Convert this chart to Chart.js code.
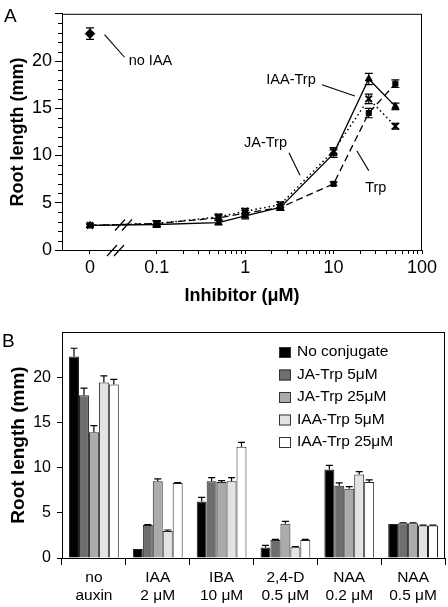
<!DOCTYPE html>
<html>
<head>
<meta charset="utf-8">
<script src="https://cdn.jsdelivr.net/npm/chart.js@4.4.1/dist/chart.umd.min.js"></script>
<style>
  html, body { margin: 0; padding: 0; background: #fff; }
  #wrap { position: relative; width: 448px; height: 607px; }
  .panel { position: absolute; left: 0; width: 448px; }
</style>
</head>
<body>
<div id="wrap">
  <div class="panel" style="top:0;height:305px"><canvas id="chartA" width="448" height="305"></canvas></div>
  <div class="panel" style="top:305px;height:302px"><canvas id="chartB" width="448" height="302"></canvas></div>
</div>
<script>
// ---- panel A data ----
const concentrations = [0, 0.1, 0.5, 1, 2.5, 10, 25, 50];
const iaaTrp    = [2.6, 2.7, 2.9, 3.6, 4.5, 10.2, 18.1, 15.2];
const iaaTrpErr = [0.15, 0.3, 0.25, 0.3, 0.3, 0.4, 0.6, 0.35];
const jaTrp     = [2.6, 2.8, 3.5, 4.1, 4.8, 10.5, 16.0, 13.1];
const jaTrpErr  = [0.15, 0.3, 0.3, 0.3, 0.3, 0.35, 0.5, 0.3];
const trp       = [2.6, 2.8, 3.4, 3.9, 4.5, 7.0, 14.5, 17.6];
const trpErr    = [0.15, 0.3, 0.3, 0.3, 0.3, 0.2, 0.5, 0.4];
const noIaa     = [22.9];
const noIaaErr  = [0.6];
const xMajorTicks = [0, 0.1, 1, 10, 100];
const xTickLabels = ['0', '0.1', '1', '10', '100'];
const ZERO_AT = 0.0176; // where "0" sits on the broken log axis

// ---- panel B data ----
const auxins = [['no', 'auxin'], ['IAA', '2 μM'], ['IBA', '10 μM'], ['2,4-D', '0.5 μM'], ['NAA', '0.2 μM'], ['NAA', '0.5 μM']];
const conjugates = ['No conjugate', 'JA-Trp 5μM', 'JA-Trp 25μM', 'IAA-Trp 5μM', 'IAA-Trp 25μM'];
const noConj    = [22.3, 1.0, 6.25, 1.15, 9.8, 3.75];
const noConjErr = [0.9, 0, 0.45, 0.25, 0.45, 0];
const ja5       = [18.0, 3.65, 8.5, 2.0, 8.0, 3.85];
const ja5Err    = [0.8, 0.05, 0.4, 0.05, 0.3, 0.05];
const ja25      = [13.9, 8.5, 8.4, 3.8, 7.65, 3.85];
const ja25Err   = [0.75, 0.25, 0.15, 0.25, 0.25, 0.05];
const iaa5      = [19.4, 3.0, 8.5, 1.2, 9.25, 3.6];
const iaa5Err   = [0.75, 0.1, 0.4, 0.05, 0.3, 0.03];
const iaa25     = [19.2, 8.3, 12.3, 2.0, 8.4, 3.6];
const iaa25Err  = [0.55, 0.05, 0.5, 0.05, 0.25, 0.03];
const yTicksB = [0, 5, 10, 15, 20];

const FONT = "'Liberation Sans', Arial, Helvetica, sans-serif";
Chart.defaults.font.family = FONT;
Chart.defaults.color = '#000';

const toXY = (vals) => vals.map((v, i) => ({ x: concentrations[i] === 0 ? ZERO_AT : concentrations[i], y: v }));

// error bars (both ways) + frame + minor ticks + labels for panel A
const panelA = {
  id: 'panelA',
  afterDatasetsDraw(chart) {
    const { ctx, chartArea: ca, scales: { x, y } } = chart;
    ctx.save();
    ctx.strokeStyle = '#000';
    ctx.lineWidth = 1.2;
    ctx.setLineDash([]);
    chart.data.datasets.forEach(ds => {
      if (!ds.errors) return;
      ds.data.forEach((p, j) => {
        const e = ds.errors[j];
        const px = x.getPixelForValue(p.x);
        const t = y.getPixelForValue(p.y + e), b = y.getPixelForValue(p.y - e);
        ctx.beginPath();
        ctx.moveTo(px, t); ctx.lineTo(px, b);
        ctx.moveTo(px - 4, t); ctx.lineTo(px + 4, t);
        ctx.moveTo(px - 4, b); ctx.lineTo(px + 4, b);
        ctx.stroke();
      });
    });
    // frame
    ctx.lineWidth = 1;
    ctx.strokeRect(ca.left + 0.5, ca.top + 0.5, ca.right - ca.left - 1, ca.bottom - ca.top);
    // minor y ticks
    ctx.beginPath();
    for (let v = 1; v < 25; v++) {
      if (v % 5 === 0) continue;
      const py = Math.round(y.getPixelForValue(v)) + 0.5;
      ctx.moveTo(ca.left - 4, py); ctx.lineTo(ca.left, py);
    }
    ctx.stroke();
    // axis break marks
    ctx.lineWidth = 1.2;
    const bx = ca.left + 45, by = ca.bottom;
    const ly = y.getPixelForValue(2.7);
    ctx.beginPath();
    [[bx, by + 6], [bx + 7, by + 6], [bx + 8, ly + 6], [bx + 15, ly + 6]].forEach(([sx, sy]) => {
      ctx.moveTo(sx, sy); ctx.lineTo(sx + 10, sy - 11);
    });
    ctx.stroke();
    // annotations
    ctx.font = '14.5px ' + FONT;
    ctx.fillStyle = '#000';
    ctx.textAlign = 'center';
    ctx.textBaseline = 'middle';
    const notes = [
      { text: 'no IAA',  at: [0.085, 20.0], from: [0.0257, 22.8], to: [0.0432, 20.4] },
      { text: 'IAA-Trp', at: [3.3, 18.0],   from: [7.4, 17.5],    to: [17.4, 16.3] },
      { text: 'JA-Trp',  at: [1.7, 11.3],   from: [3.13, 10.3],   to: [4.17, 7.9] },
      { text: 'Trp',     at: [30, 6.6],     from: [18.3, 10.5],   to: [25, 8.4] }
    ];
    ctx.lineWidth = 1.1;
    notes.forEach(n => {
      ctx.fillText(n.text, x.getPixelForValue(n.at[0]), y.getPixelForValue(n.at[1]));
      ctx.beginPath();
      ctx.moveTo(x.getPixelForValue(n.from[0]), y.getPixelForValue(n.from[1]));
      ctx.lineTo(x.getPixelForValue(n.to[0]), y.getPixelForValue(n.to[1]));
      ctx.stroke();
    });
    // panel letter
    ctx.font = '19px ' + FONT;
    ctx.textAlign = 'left';
    ctx.textBaseline = 'alphabetic';
    ctx.fillText('A', 4, 22);
    ctx.restore();
  }
};

const xTickValues = [ZERO_AT];
[0.1, 1, 10].forEach(d => { for (let k = 1; k <= 9; k++) xTickValues.push(d * k); });
xTickValues.push(100);

const isMajorX = (v) => v === ZERO_AT || Math.abs(Math.log10(v) - Math.round(Math.log10(v))) < 1e-9;

new Chart(document.getElementById('chartA'), {
  type: 'scatter',
  data: {
    datasets: [
      { label: 'IAA-Trp', data: toXY(iaaTrp), errors: iaaTrpErr, showLine: true,
        borderColor: '#000', backgroundColor: '#000', borderWidth: 1.3,
        pointStyle: 'triangle', pointRadius: 4, pointBorderWidth: 1 },
      { label: 'Trp', data: toXY(trp), errors: trpErr, showLine: true,
        borderColor: '#000', backgroundColor: '#000', borderWidth: 1.3, borderDash: [7, 4],
        pointStyle: 'rect', pointRadius: 3.6, pointBorderWidth: 1 },
      { label: 'JA-Trp', data: toXY(jaTrp), errors: jaTrpErr, showLine: true,
        borderColor: '#000', backgroundColor: '#000', borderWidth: 1.5, borderDash: [1.5, 3],
        pointStyle: 'crossRot', pointRadius: 4.5, pointBorderWidth: 2 },
      { label: 'no IAA', data: noIaa.map(v => ({ x: ZERO_AT, y: v })), errors: noIaaErr, showLine: false,
        borderColor: '#000', backgroundColor: '#000',
        pointStyle: 'rectRot', pointRadius: 4.8 }
    ]
  },
  options: {
    responsive: false,
    animation: false,
    layout: { padding: { top: 2, right: 26, left: 0, bottom: 0 } },
    plugins: { legend: { display: false }, tooltip: { enabled: false } },
    scales: {
      x: {
        type: 'logarithmic',
        min: 0.00849,
        max: 100,
        afterFit: (s) => { s.height = 55; },
        afterBuildTicks: (s) => { s.ticks = xTickValues.map(v => ({ value: v })); },
        ticks: {
          autoSkip: false, maxRotation: 0, padding: 3,
          font: { size: 18 },
          callback: (v) => {
            if (v === ZERO_AT) return xTickLabels[0];
            const i = xMajorTicks.findIndex(m => m > 0 && Math.abs(m - v) < 1e-9);
            return i >= 0 ? xTickLabels[i] : '';
          }
        },
        grid: { drawOnChartArea: false, tickLength: 4, color: '#000',
                tickColor: '#000' },
        border: { color: '#000', width: 1 },
        title: { display: true, text: 'Inhibitor (μM)', font: { size: 18, weight: 'bold', lineHeight: 1 },
                 padding: { top: 0, bottom: 0 } }
      },
      y: {
        min: 0, max: 25,
        afterFit: (s) => { s.width = 62; },
        ticks: {
          stepSize: 1, autoSkip: false, padding: 3,
          font: { size: 18 },
          callback: (v) => (v % 5 === 0 && v < 25) ? v : ''
        },
        grid: { drawOnChartArea: false, tickLength: 7,
                tickColor: (c) => (c.tick && c.tick.value % 5 === 0) ? '#000' : 'rgba(0,0,0,0)' },
        border: { color: '#000', width: 1 },
        title: { display: true, text: 'Root length (mm)', font: { size: 18, weight: 'bold', lineHeight: 1 },
                 padding: { top: 9, bottom: 0 } }
      }
    }
  },
  plugins: [panelA]
});

// panel B: upward error bars, frame, legend, letter
const panelB = {
  id: 'panelB',
  afterDatasetsDraw(chart) {
    const { ctx, chartArea: ca } = chart;
    ctx.save();
    ctx.strokeStyle = '#000';
    ctx.lineWidth = 1.2;
    chart.data.datasets.forEach((ds, i) => {
      const meta = chart.getDatasetMeta(i);
      meta.data.forEach((bar, j) => {
        const e = ds.errors[j];
        if (!e) return;
        const t = chart.scales.y.getPixelForValue(ds.data[j] + e);
        ctx.beginPath();
        ctx.moveTo(bar.x, bar.y); ctx.lineTo(bar.x, t);
        ctx.moveTo(bar.x - 3.5, t); ctx.lineTo(bar.x + 3.5, t);
        ctx.stroke();
      });
    });
    ctx.lineWidth = 1;
    ctx.strokeRect(ca.left + 0.5, ca.top + 0.5, ca.right - ca.left - 1, ca.bottom - ca.top);
    // legend
    ctx.font = '15.5px ' + FONT;
    ctx.textAlign = 'left';
    ctx.textBaseline = 'middle';
    chart.data.datasets.forEach((ds, i) => {
      const cy = 47 + i * 22.5;
      ctx.fillStyle = ds.backgroundColor;
      ctx.fillRect(279, cy - 5, 12, 11);
      ctx.strokeStyle = '#333';
      ctx.strokeRect(279.5, cy - 4.5, 11, 10);
      ctx.fillStyle = '#000';
      ctx.fillText(ds.label, 297, cy);
    });
    ctx.font = '19px ' + FONT;
    ctx.textBaseline = 'alphabetic';
    ctx.fillText('B', 2, 42);
    ctx.restore();
  }
};

const barColors = ['#000000', '#6e6e6e', '#ababab', '#e3e3e3', '#ffffff'];
const barValues = [noConj, ja5, ja25, iaa5, iaa25];
const barErrors = [noConjErr, ja5Err, ja25Err, iaa5Err, iaa25Err];

new Chart(document.getElementById('chartB'), {
  type: 'bar',
  data: {
    labels: auxins,
    datasets: conjugates.map((name, i) => ({
      label: name,
      data: barValues[i],
      errors: barErrors[i],
      backgroundColor: barColors[i],
      borderColor: '#222',
      borderWidth: 1,
      barPercentage: 1,
      categoryPercentage: 0.78
    }))
  },
  options: {
    responsive: false,
    animation: false,
    layout: { padding: { top: 27, right: 3, left: 0, bottom: 0 } },
    plugins: { legend: { display: false }, tooltip: { enabled: false } },
    scales: {
      x: {
        afterFit: (s) => { s.height = 49; },
        ticks: { autoSkip: false, maxRotation: 0, padding: 3, font: { size: 15.5 } },
        grid: { drawOnChartArea: false, tickLength: 7, color: '#000', offset: true },
        border: { color: '#000', width: 1 }
      },
      y: {
        min: 0, max: 25,
        afterFit: (s) => { s.width = 62; },
        afterBuildTicks: (s) => { s.ticks = yTicksB.map(v => ({ value: v })); },
        ticks: { padding: 6, font: { size: 16 } },
        grid: { drawOnChartArea: false, tickLength: 5, color: '#000' },
        border: { color: '#000', width: 1 },
        title: { display: true, text: 'Root length (mm)', font: { size: 19, weight: 'bold', lineHeight: 1 },
                 padding: { top: 9, bottom: 0 } }
      }
    }
  },
  plugins: [panelB]
});
</script>
</body>
</html>
